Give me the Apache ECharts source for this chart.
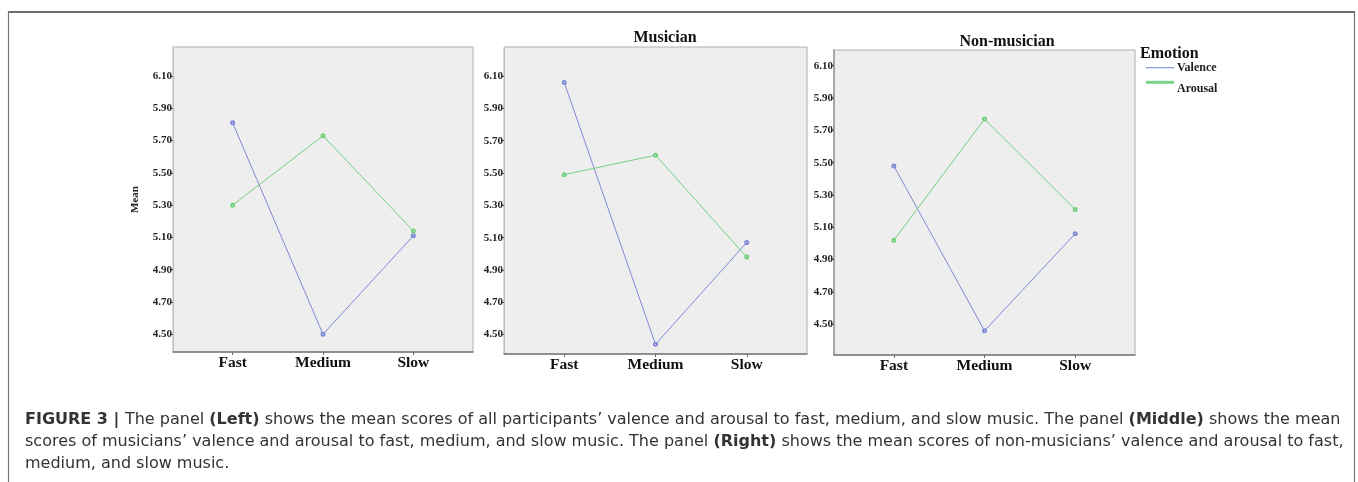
<!DOCTYPE html>
<html>
<head>
<meta charset="utf-8">
<script src="https://cdn.jsdelivr.net/npm/echarts@6/dist/echarts.min.js"></script>
<style>
html,body{margin:0;padding:0;background:#fff;}
#chart{width:1358px;height:482px;}
</style>
</head>
<body>
<div id="chart"></div>
<script>
// ---- data ----
const categories = ['Fast', 'Medium', 'Slow'];
const panelTitles = ['', 'Musician', 'Non-musician'];
const seriesNames = ['Valence', 'Arousal'];
const valenceAll = [5.81, 4.50, 5.11];
const arousalAll = [5.30, 5.73, 5.14];
const valenceMusician = [6.06, 4.44, 5.07];
const arousalMusician = [5.49, 5.61, 4.98];
const valenceNonMusician = [5.48, 4.46, 5.06];
const arousalNonMusician = [5.02, 5.77, 5.21];
const yTickLabels = ['4.50', '4.70', '4.90', '5.10', '5.30', '5.50', '5.70', '5.90', '6.10'];
const legendTitle = 'Emotion';
const yAxisName = 'Mean';
const captionLines = [
  [['b', 'FIGURE 3 | '], ['n', 'The panel '], ['b', '(Left)'], ['n', ' shows the mean scores of all participants\u2019 valence and arousal to fast, medium, and slow music. The panel '], ['b', '(Middle)'], ['n', ' shows the mean']],
  [['n', 'scores of musicians\u2019 valence and arousal to fast, medium, and slow music. The panel '], ['b', '(Right)'], ['n', ' shows the mean scores of non-musicians\u2019 valence and arousal to fast,']],
  [['n', 'medium, and slow music.']]
];

const panels = [
  { valence: valenceAll, arousal: arousalAll },
  { valence: valenceMusician, arousal: arousalMusician },
  { valence: valenceNonMusician, arousal: arousalNonMusician }
];

// ---- layout / style ----
const grids = [
  { left: 173, top: 47, width: 300, height: 305, ymin: 4.39, ymax: 6.28 },
  { left: 504, top: 47, width: 303, height: 307, ymin: 4.38, ymax: 6.28 },
  { left: 834, top: 50, width: 301, height: 305, ymin: 4.31, ymax: 6.197 }
];
const titlePos = [null, { x: 660, y: 25 }, { x: 1002, y: 29 }];
const colors = { Valence: '#7f8ad6', Arousal: '#72cf7e' };
const serif = '"Liberation Serif", "DejaVu Serif", serif';
const sans = '"DejaVu Sans", "Liberation Sans", sans-serif';

const chart = echarts.init(document.getElementById('chart'), null, { renderer: 'canvas' });

const gridOpts = [], xAxes = [], yAxes = [], series = [], titles = [];
const yTickValues = yTickLabels.map(Number);
const catIdx = categories.map((c, i) => i);

grids.forEach((g, i) => {
  gridOpts.push({
    left: g.left, top: g.top, width: g.width, height: g.height,
    show: true, backgroundColor: '#eeeeee', borderColor: '#b0b0b0', borderWidth: 1
  });
  xAxes.push({
    type: 'value', gridIndex: i, min: -0.66, max: 2.66,
    axisLine: { show: true, onZero: false, lineStyle: { color: '#7a7a7a', width: 1.5 } },
    axisTick: { show: true, customValues: catIdx, length: 3, lineStyle: { color: '#666' } },
    axisLabel: {
      customValues: catIdx, formatter: v => categories[Math.round(v)],
      fontFamily: serif, fontWeight: 'bold', fontSize: 15.5, color: '#111', margin: 3
    },
    splitLine: { show: false }
  });
  yAxes.push({
    type: 'value', gridIndex: i, min: g.ymin, max: g.ymax,
    name: i === 0 ? yAxisName : '', nameLocation: 'middle', nameGap: 32,
    nameTextStyle: { fontFamily: serif, fontWeight: 'bold', fontSize: 11, color: '#222' },
    axisLine: { show: true, onZero: false, lineStyle: { color: i === 2 ? '#999' : '#c0c0c0', width: i === 2 ? 1.5 : 1 } },
    axisTick: { show: true, customValues: yTickValues, length: 3, lineStyle: { color: '#555' } },
    axisLabel: {
      customValues: yTickValues, formatter: v => v.toFixed(2),
      fontFamily: serif, fontWeight: 'bold', fontSize: 11, color: '#222', margin: 1
    },
    splitLine: { show: false }
  });
  const p = panels[i];
  [['Valence', p.valence], ['Arousal', p.arousal]].forEach(([name, vals]) => {
    series.push({
      type: 'line', name: name, xAxisIndex: i, yAxisIndex: i,
      data: vals.map((v, k) => [k, v]),
      symbol: 'emptyCircle', symbolSize: 3,
      lineStyle: { color: colors[name], width: 1 },
      itemStyle: { color: colors[name], borderWidth: 1 },
      silent: true, animation: false
    });
  });
  if (panelTitles[i]) {
    titles.push({
      text: panelTitles[i], left: titlePos[i].x, top: titlePos[i].y, textAlign: 'center',
      textStyle: { fontFamily: serif, fontWeight: 'bold', fontSize: 16, color: '#111' }
    });
  }
});

// caption rich text
const rich = {
  b: { fontFamily: sans, fontWeight: 'bold', fontSize: 16, color: '#333' },
  n: { fontFamily: sans, fontWeight: 'normal', fontSize: 16, color: '#333' }
};
const captionEls = captionLines.map((parts, li) => ({
  type: 'text', left: 25, top: 412 + li * 21.8,
  style: {
    text: parts.map(([s, t]) => '{' + s + '|' + t + '}').join(''),
    rich: rich, fill: '#333'
  }
}));

const legendEls = [
  { type: 'text', left: 1140, top: 46, style: { text: legendTitle, font: 'bold 16px ' + serif, fill: '#111' } },
  { type: 'line', shape: { x1: 1146, y1: 67.7, x2: 1174, y2: 67.7 }, style: { stroke: '#8896dd', lineWidth: 1.2 } },
  { type: 'text', left: 1177, top: 62, style: { text: seriesNames[0], font: 'bold 12px ' + serif, fill: '#222' } },
  { type: 'line', shape: { x1: 1146, y1: 82.3, x2: 1174, y2: 82.3 }, style: { stroke: '#77d487', lineWidth: 3 } },
  { type: 'text', left: 1177, top: 83, style: { text: seriesNames[1], font: 'bold 12px ' + serif, fill: '#222' } }
];

const frameEls = [
  { type: 'line', shape: { x1: 8, y1: 12, x2: 1355, y2: 12 }, style: { stroke: '#6f6f6f', lineWidth: 2 } },
  { type: 'line', shape: { x1: 8.5, y1: 12, x2: 8.5, y2: 482 }, style: { stroke: '#777', lineWidth: 1.2 } },
  { type: 'line', shape: { x1: 1354.5, y1: 12, x2: 1354.5, y2: 482 }, style: { stroke: '#777', lineWidth: 1.2 } }
];

chart.setOption({
  backgroundColor: '#ffffff',
  animation: false,
  title: titles,
  grid: gridOpts,
  xAxis: xAxes,
  yAxis: yAxes,
  series: series,
  graphic: { elements: frameEls.concat(legendEls, captionEls) }
});
</script>
</body>
</html>
